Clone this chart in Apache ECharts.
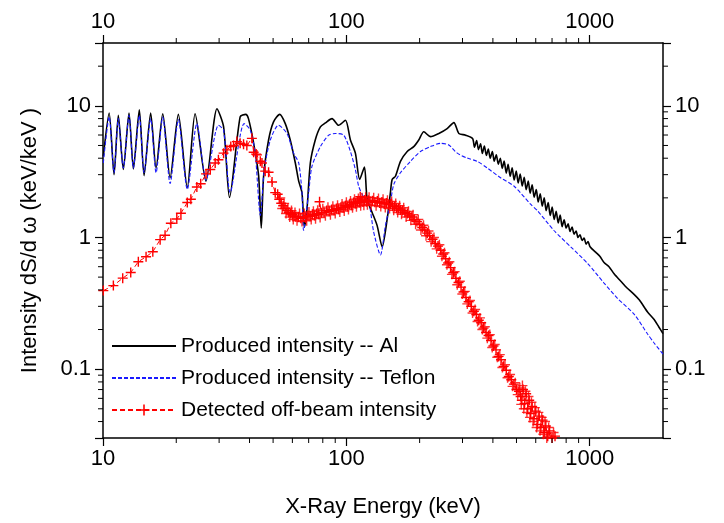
<!DOCTYPE html>
<html><head><meta charset="utf-8">
<script src="https://cdn.jsdelivr.net/npm/echarts@6/dist/echarts.min.js"></script>
<style>html,body{margin:0;padding:0;background:#fff}#c{width:724px;height:523px}</style>
</head><body><div id="c"></div>
<script>
// ---- data ----
const alE = [10.03,10.6,11.1,11.56,12.12,12.79,13.33,14.1,14.75,15.7,16.52,17.6,18.87,20.4,22.2,23.9,26.5,29.4,31.3,33.1,
 36.6,38.6,39.6,41.6,43.6,44.7,45.7,47.9,50.2,53.2,56.1,58.8,61.7,63.7,65.7,67.2,68.9,71.1,74.5,78.2,
 82.0,87.3,92.9,99.1,103.9,108.9,113.4,118.6,121.7,127.6,133.8,140.3,147.1,151.7,154.2,159.1,166.8,177.8,189.2,198.4,
 208,221.7,239.9,259.5,276.5,289.8,309,
 330,336,343,349,356,362,369,376,383,390,398,405,413,421,429,437,445,454,462,471,
 480,489,499,508,518,528,538,548,559,569,580,591,603,614,626,638,650,662,675,688,
 701,714,728,742,756,770,785,800,815,830,846,862,879,895,912,930,948,966,984,1003,
 1060,1100,1145,1200,1259,1342,1420,1521,1600,1728,1839,1920,2000];
const alV = [4.13,8.81,3.0,8.46,3.28,8.81,3.32,9.33,2.95,8.81,3.37,8.71,2.84,8.61,2.39,8.71,2.68,9.5,6.92,2.01,
 8.23,8.61,7.99,5.19,2.94,1.18,2.92,5.5,7.55,8.61,7.33,5.5,3.68,2.68,2.19,1.2,1.64,3.68,5.5,6.92,
 7.42,7.99,7.12,7.76,5.5,4.37,2.76,3.43,1.95,1.55,1.23,0.849,1.38,2.19,2.76,2.92,3.79,4.5,4.9,5.5,
 6.35,5.83,6.17,6.72,7.46,6.17,5.99,
 5.65,4.85,5.45,4.65,5.15,4.35,4.95,4.2,4.7,4.0,4.5,3.8,4.25,3.6,4.0,3.35,3.8,3.08,3.6,2.92,
 3.38,2.73,3.2,2.6,3.03,2.46,2.86,2.31,2.68,2.17,2.51,2.02,2.31,1.86,2.15,1.73,2.0,1.6,1.84,1.47,
 1.7,1.37,1.58,1.29,1.48,1.21,1.36,1.18,1.27,1.11,1.2,1.06,1.12,1.0,1.05,0.95,0.99,0.89,0.93,0.85,
 0.77,0.72,0.645,0.6,0.53,0.465,0.415,0.37,0.335,0.272,0.238,0.21,0.186];

const tfE = [10.03,10.6,11.1,11.56,12.12,12.79,13.33,14.1,14.75,15.7,16.52,17.6,18.87,20.4,22.2,24.3,26.5,29.8,31.3,33.3,
 38.0,40.3,42.2,44.3,46,48.7,52.6,57,60.7,63.7,65.7,66.7,70,72.2,78.2,84.6,90.1,97.5,103.9,108.9,
 112.3,117.1,123.6,129.5,138,144.7,151.7,156.6,166.8,183.4,201.6,221.7,243.7,263.6,285.5,313.9,345,379.3,430.2,488,
 571.6,609.4,713,835.4,978.5,1145,1300,1521,1728,1839,2000];
const tfV = [3.68,8.23,3.1,7.99,3.37,8.46,3.37,8.46,3.1,7.99,3.1,8.23,2.57,7.86,2.32,7.33,2.73,7.12,6.53,2.19,
 7.33,6.53,4.37,1.47,3.28,5.5,7.12,6.17,4.37,3.68,2.19,1.13,2.19,3.47,4.9,5.99,6.17,5.99,4.5,3.28,
 2.46,2.07,1.85,1.1,0.736,1.23,1.85,2.53,3.1,3.79,4.5,4.9,5.19,5.04,4.37,4.01,3.79,3.37,2.84,2.46,
 1.79,1.6,1.13,0.849,0.637,0.451,0.345,0.262,0.185,0.158,0.13];

const detE = [10.03,11.03,12.05,13.0,13.97,15.03,16.02,17.17,17.99,19.0,20.1,20.9,22.2,22.96,24.3,25.2,26.5,27.6,28.9,29.8,
 31.3,32.3,33.5,34.4,35.5,36.6,37.8,39.0,40.9,41.6,42.6,42.9,44.3,45.0,46.4,47.9,49.5,51.0,52.2,
 53,54,55,56,57,58,59,60,61,62,63.5,65,66.5,68,69.5,71,72.5,74,75.5,77,
 77.6,79,81,83,85,87,89,91,93,95,97,99,101,103,105,107,109,111,113,114,
 115,117,119,121,123,125,128,131,134,137,140,143,146,149,152,155,158,161,164,167,
 170,174,178,182,186,190,195,200,205,210,215,220,226,232,238,244,250,256,262,268,
 275,282,289,296,303,310,318,326,334,342,350,358,366,375,384,393,402,412,422,432,
 443,454,465,476,488,500,512,520,526,532,540,548,556,564,572,580,590,600,610,620,
 630,640,650,660,672,684,700,720,740];
const detV = [0.395,0.431,0.491,0.542,0.655,0.714,0.779,0.963,1.04,1.284,1.38,1.526,1.845,1.95,2.42,2.56,3.04,3.28,3.68,3.89,
 4.37,4.63,4.9,4.99,5.35,5.19,5.1,4.99,5.66,4.44,4.3,4.24,3.79,3.68,3.19,3.13,2.64,2.19,2.13,
 1.95,1.82,1.74,1.66,1.6,1.55,1.52,1.49,1.46,1.44,1.43,1.40,1.43,1.41,1.47,1.45,1.50,1.47,1.52,1.50,
 1.87,1.54,1.55,1.60,1.58,1.63,1.61,1.66,1.64,1.70,1.68,1.74,1.72,1.79,1.76,1.84,1.81,1.88,1.84,2.04,
 1.9,1.86,1.93,1.87,1.92,1.88,1.90,1.85,1.89,1.83,1.86,1.80,1.83,1.78,1.80,1.73,1.72,1.67,1.66,1.62,
 1.60,1.55,1.52,1.46,1.43,1.37,1.32,1.26,1.19,1.14,1.08,1.03,0.97,0.90,0.86,0.80,0.75,0.69,0.64,0.59,
 0.54,0.49,0.455,0.42,0.385,0.35,0.325,0.30,0.275,0.26,0.235,0.225,0.205,0.19,0.18,0.165,0.15,0.14,0.125,0.118,
 0.105,0.098,0.088,0.083,0.077,0.070,0.068,0.062,0.058,0.070,0.055,0.065,0.050,0.058,0.046,0.052,0.042,0.048,0.038,0.044,
 0.036,0.041,0.033,0.037,0.031,0.034,0.030,0.031,0.029];

// scattered detected points at the edges of the dense band (markers only)
const detScatE = [53.5,54.5,55.5,56.5,57.5,58.5,59.5,60.5,61.5,62.7,64.2,65.7,67.2,68.7,70.2,71.7,73.2,74.7,76.2,78,
 80,82,84,86,88,90,92,94,96,98,100,102,104,106,108,110,112,114.5,116,118,
 120,122,124,126.5,129.5,132.5,135.5,138.5,141.5,144.5,147.5,150.5,153.5,156.5,159.5,162.5,165.5,168.5,172,176,
 180,184,188,192.5,197.5,202.5,207.5,212.5,217.5,223,229,235,241,247,253,259,265,271.5,278.5,285.5,
 292.5,299.5,306.5,314,322,330,338,346,354,362,370.5,379.5,388.5,397.5,407,417,427,437.5,448.5,459.5,
 470.5,482,494,506,516,523,529,536,544,552,560,568,576,585,595,605,615,625,635,645,
 655,666,678,692,710,730];
const detScatV = [2.0,1.66,1.81,1.52,1.67,1.43,1.6,1.37,1.55,1.34,1.52,1.32,1.52,1.34,1.56,1.37,1.58,1.39,1.61,1.42,
 1.65,1.46,1.70,1.49,1.73,1.52,1.76,1.56,1.80,1.59,1.85,1.63,1.89,1.68,1.95,1.71,1.98,1.74,2.0,1.76,
 2.02,1.77,2.02,1.76,2.0,1.74,1.98,1.72,1.95,1.69,1.92,1.66,1.88,1.61,1.81,1.55,1.74,1.50,1.68,1.43,
 1.58,1.35,1.49,1.26,1.37,1.14,1.24,1.03,1.12,0.93,1.0,0.82,0.88,0.72,0.765,0.62,0.655,0.525,0.55,0.437,
 0.465,0.372,0.39,0.313,0.332,0.267,0.284,0.23,0.245,0.2,0.21,0.172,0.183,0.146,0.154,0.123,0.129,0.103,0.108,0.086,
 0.091,0.074,0.079,0.064,0.072,0.054,0.075,0.05,0.068,0.047,0.062,0.043,0.056,0.04,0.051,0.036,0.047,0.034,0.043,0.032,
 0.04,0.03,0.036,0.028,0.033,0.027];

const seriesNames = ['Produced intensity -- Al','Produced intensity -- Teflon','Detected off-beam intensity'];
const xMinorTicks = [20,30,40,50,60,70,80,90,200,300,400,500,600,700,800,900];
const yMinorTicks = [0.04,0.05,0.06,0.07,0.08,0.09,0.2,0.3,0.4,0.5,0.6,0.7,0.8,0.9,2,3,4,5,6,7,8,9,20];

// ---- chart ----
const FONT = 'Arial, "Liberation Sans", sans-serif';
const zip = (a, b) => a.map((v, i) => [v, b[i]]);
const isDecade = v => Math.abs(Math.log10(v) - Math.round(Math.log10(v))) < 1e-6;
const labelFmt = v => isDecade(v) ? String(+v.toPrecision(6)) : '';
const PLUS = 'path://M4.3,0h1.4v4.3h4.3v1.4h-4.3v4.3h-1.4v-4.3h-4.3v-1.4h4.3z';

function axisX(pos, named) {
  return {
    type: 'log', logBase: 10, min: 10, max: 2000, position: pos, gridIndex: 0,
    axisLine: {show: true, onZero: false, lineStyle: {color: '#000', width: 1.5}},
    axisTick: {show: true, inside: false, length: 8, lineStyle: {color: '#000', width: 1.2}},
    axisLabel: {show: true, fontSize: 22, color: '#000', fontFamily: FONT, margin: 10, formatter: labelFmt, showMaxLabel: false},
    splitLine: {show: false},
    name: named ? 'X-Ray Energy (keV)' : '',
    nameLocation: 'middle', nameGap: 58,
    nameTextStyle: {fontSize: 22, color: '#000', fontFamily: FONT}
  };
}
function axisY(pos, named) {
  return {
    type: 'log', logBase: 10, min: 0.03, max: 30, position: pos, gridIndex: 0,
    axisLine: {show: true, onZero: false, lineStyle: {color: '#000', width: 1.5}},
    axisTick: {show: true, inside: false, length: 8, lineStyle: {color: '#000', width: 1.2}},
    axisLabel: {show: true, fontSize: 22, color: '#000', fontFamily: FONT, margin: 12, formatter: labelFmt},
    splitLine: {show: false},
    name: named ? 'Intensity dS/d \u03c9 (keV/keV )' : '',
    nameLocation: 'middle', nameGap: 62,
    nameTextStyle: {fontSize: 22, color: '#000', fontFamily: FONT}
  };
}
function minorSeries(vals, dir) {
  return {
    type: 'custom', xAxisIndex: 0, yAxisIndex: 0, silent: true, clip: false, z: 10,
    data: vals.map(v => [v]),
    renderItem: function (params, api) {
      const cs = params.coordSys;
      const v = api.value(0);
      const st = {stroke: '#000', lineWidth: 1};
      const ch = [];
      if (dir === 'x') {
        const px = api.coord([v, 1])[0];
        ch.push({type: 'line', shape: {x1: px, y1: cs.y + cs.height, x2: px, y2: cs.y + cs.height + 5}, style: st});
        ch.push({type: 'line', shape: {x1: px, y1: cs.y, x2: px, y2: cs.y - 5}, style: st});
      } else {
        const py = api.coord([100, v])[1];
        ch.push({type: 'line', shape: {x1: cs.x, y1: py, x2: cs.x - 5, y2: py}, style: st});
        ch.push({type: 'line', shape: {x1: cs.x + cs.width, y1: py, x2: cs.x + cs.width + 5, y2: py}, style: st});
      }
      return {type: 'group', children: ch};
    }
  };
}

const chart = echarts.init(document.getElementById('c'), null, {renderer: 'canvas'});
chart.setOption({
  animation: false,
  backgroundColor: '#fff',
  grid: {left: 103, right: 61, top: 43, bottom: 79, containLabel: false},
  xAxis: [axisX('bottom', true), axisX('top', false)],
  yAxis: [axisY('left', true), axisY('right', false)],
  legend: {
    data: [
      {name: seriesNames[0], itemStyle: {opacity: 0}},
      {name: seriesNames[1], itemStyle: {opacity: 0}},
      {name: seriesNames[2]}
    ],
    orient: 'vertical', left: 106, top: 330,
    itemWidth: 64, itemHeight: 14, itemGap: 10,
    textStyle: {fontSize: 21, color: '#000', fontFamily: FONT, lineHeight: 22},
    selectedMode: false
  },
  series: [
    {name: seriesNames[0], type: 'line', xAxisIndex: 0, yAxisIndex: 0, data: zip(alE, alV), smooth: 0.25,
     showSymbol: false, symbol: 'none', lineStyle: {color: '#000', width: 1.6}, itemStyle: {color: '#000'}, z: 3},
    {name: seriesNames[1], type: 'line', xAxisIndex: 0, yAxisIndex: 0, data: zip(tfE, tfV), smooth: 0.25,
     showSymbol: false, symbol: 'none', lineStyle: {color: '#1a1aff', width: 1.1, type: [4, 2]}, itemStyle: {color: '#1a1aff'}, z: 4},
    {name: seriesNames[2], type: 'line', xAxisIndex: 0, yAxisIndex: 0, data: zip(detE, detV),
     showSymbol: true, symbol: PLUS, symbolSize: 10,
     lineStyle: {color: '#ff0000', width: 1, type: [5, 3]}, itemStyle: {color: '#ff0000'}, z: 5},
    {name: seriesNames[2], type: 'scatter', xAxisIndex: 0, yAxisIndex: 0, data: zip(detScatE, detScatV),
     symbol: PLUS, symbolSize: 10, itemStyle: {color: '#ff0000'}, z: 5},
    minorSeries(xMinorTicks, 'x'),
    minorSeries(yMinorTicks, 'y')
  ]
});
</script>
</body></html>
